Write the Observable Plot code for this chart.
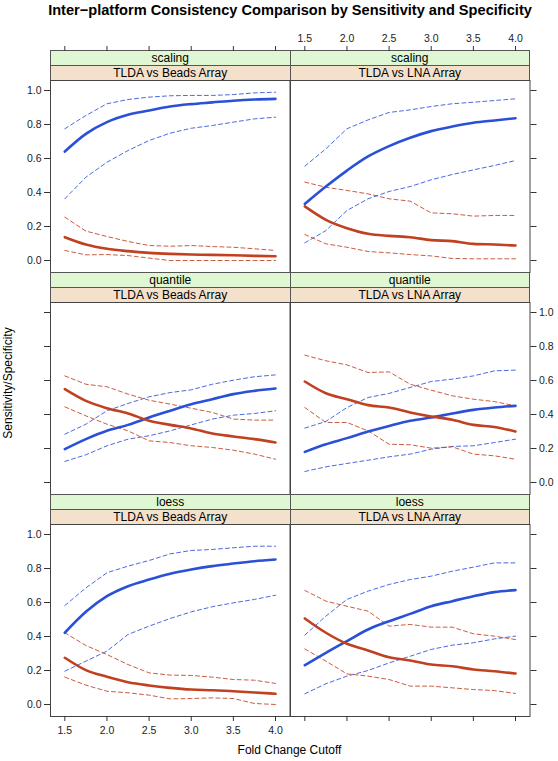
<!DOCTYPE html>
<html><head><meta charset="utf-8">
<script src="https://cdn.jsdelivr.net/npm/d3@7"></script>
<script src="https://cdn.jsdelivr.net/npm/@observablehq/plot@0.6"></script>
<style>
body{margin:0;background:#fff;font-family:"Liberation Sans",Arial,Helvetica,sans-serif;}
#root{position:relative;width:558px;height:761px;overflow:hidden;background:#fff;}
.abs{position:absolute;}
.strip{position:absolute;box-sizing:border-box;border:1px solid #555;text-align:center;font-size:12px;line-height:14px;color:#000;white-space:nowrap;}
svg{overflow:visible;}
</style></head><body><div id="root"></div>
<script>
// ---------- data ----------
const title = "Inter\u2212platform Consistency Comparison by Sensitivity and Specificity";
const xTitle = "Fold Change Cutoff";
const yTitle = "Sensitivity/Specificity";
const methods = ["scaling", "quantile", "loess"];
const platforms = ["TLDA vs Beads Array", "TLDA vs LNA Array"];
const xCutoff = [1.5, 1.75, 2.0, 2.25, 2.5, 2.75, 3.0, 3.25, 3.5, 3.75, 4.0];
const xTicks = [1.5, 2.0, 2.5, 3.0, 3.5, 4.0];
const yTicks = [0.0, 0.2, 0.4, 0.6, 0.8, 1.0];

// scaling / Beads
const scalingBeadsSens   = [0.641,0.745,0.814,0.857,0.882,0.906,0.920,0.930,0.940,0.947,0.951];
const scalingBeadsSensHi = [0.775,0.853,0.922,0.947,0.961,0.969,0.971,0.971,0.976,0.986,0.990];
const scalingBeadsSensLo = [0.363,0.490,0.578,0.647,0.706,0.749,0.778,0.794,0.814,0.833,0.843];
const scalingBeadsSpec   = [0.137,0.094,0.069,0.055,0.045,0.039,0.035,0.033,0.031,0.027,0.025];
const scalingBeadsSpecHi = [0.255,0.173,0.141,0.112,0.088,0.084,0.088,0.082,0.078,0.069,0.059];
const scalingBeadsSpecLo = [0.059,0.033,0.035,0.029,0.014,0.000,0.000,0.000,0.000,0.000,0.000];
// scaling / LNA
const scalingLnaSens   = [0.333,0.435,0.529,0.612,0.673,0.722,0.761,0.788,0.810,0.824,0.837];
const scalingLnaSensHi = [0.555,0.657,0.775,0.827,0.871,0.886,0.906,0.922,0.931,0.941,0.951];
const scalingLnaSensLo = [0.104,0.176,0.294,0.363,0.406,0.435,0.475,0.506,0.533,0.559,0.588];
const scalingLnaSpec   = [0.318,0.239,0.190,0.157,0.145,0.137,0.120,0.114,0.098,0.094,0.088];
const scalingLnaSpecHi = [0.461,0.431,0.412,0.392,0.363,0.349,0.280,0.275,0.261,0.265,0.265];
const scalingLnaSpecLo = [0.153,0.098,0.078,0.053,0.045,0.035,0.027,0.012,0.010,0.010,0.010];
// quantile / Beads
const quantileBeadsSens   = [0.196,0.255,0.304,0.339,0.382,0.422,0.461,0.490,0.520,0.539,0.553];
const quantileBeadsSensHi = [0.284,0.343,0.422,0.465,0.504,0.529,0.545,0.578,0.602,0.622,0.633];
const quantileBeadsSensLo = [0.124,0.163,0.216,0.255,0.275,0.304,0.339,0.373,0.396,0.406,0.422];
const quantileBeadsSpec   = [0.549,0.480,0.437,0.406,0.363,0.339,0.318,0.288,0.271,0.255,0.235];
const quantileBeadsSpecHi = [0.627,0.578,0.563,0.520,0.484,0.461,0.437,0.412,0.373,0.367,0.367];
const quantileBeadsSpecLo = [0.445,0.392,0.343,0.304,0.245,0.235,0.216,0.206,0.190,0.167,0.137];
// quantile / LNA
const quantileLnaSens   = [0.180,0.225,0.261,0.300,0.333,0.363,0.382,0.406,0.427,0.441,0.451];
const quantileLnaSensHi = [0.320,0.359,0.441,0.500,0.524,0.559,0.594,0.608,0.627,0.657,0.661];
const quantileLnaSensLo = [0.065,0.092,0.112,0.131,0.151,0.167,0.196,0.212,0.216,0.235,0.255];
const quantileLnaSpec   = [0.594,0.525,0.490,0.455,0.441,0.412,0.388,0.369,0.339,0.327,0.300];
const quantileLnaSpecHi = [0.749,0.716,0.692,0.647,0.651,0.578,0.543,0.510,0.490,0.476,0.451];
const quantileLnaSpecLo = [0.441,0.353,0.353,0.304,0.225,0.222,0.202,0.210,0.167,0.157,0.137];
// loess / Beads
const loessBeadsSens   = [0.422,0.545,0.637,0.696,0.735,0.769,0.794,0.814,0.829,0.843,0.853];
const loessBeadsSensHi = [0.582,0.686,0.775,0.814,0.847,0.886,0.906,0.912,0.922,0.931,0.931];
const loessBeadsSensLo = [0.196,0.255,0.314,0.412,0.461,0.506,0.545,0.575,0.598,0.618,0.643];
const loessBeadsSpec   = [0.275,0.202,0.163,0.131,0.112,0.098,0.088,0.084,0.078,0.071,0.063];
const loessBeadsSpecHi = [0.422,0.347,0.294,0.235,0.186,0.173,0.171,0.161,0.147,0.143,0.124];
const loessBeadsSpecLo = [0.161,0.114,0.078,0.069,0.055,0.033,0.035,0.039,0.035,0.006,0.000];
// loess / LNA
const loessLnaSens   = [0.231,0.304,0.373,0.441,0.490,0.533,0.578,0.608,0.637,0.661,0.673];
const loessLnaSensHi = [0.408,0.520,0.618,0.667,0.706,0.735,0.755,0.784,0.808,0.833,0.833];
const loessLnaSensLo = [0.063,0.122,0.167,0.200,0.245,0.284,0.324,0.349,0.363,0.386,0.402];
const loessLnaSpec   = [0.506,0.422,0.357,0.318,0.278,0.259,0.235,0.225,0.206,0.196,0.182];
const loessLnaSpecHi = [0.671,0.608,0.578,0.549,0.461,0.471,0.455,0.455,0.416,0.402,0.382];
const loessLnaSpecLo = [0.327,0.255,0.180,0.167,0.147,0.108,0.108,0.098,0.088,0.082,0.065];

const panelSeries = [
  [[scalingBeadsSens, scalingBeadsSensHi, scalingBeadsSensLo, scalingBeadsSpec, scalingBeadsSpecHi, scalingBeadsSpecLo],
   [scalingLnaSens, scalingLnaSensHi, scalingLnaSensLo, scalingLnaSpec, scalingLnaSpecHi, scalingLnaSpecLo]],
  [[quantileBeadsSens, quantileBeadsSensHi, quantileBeadsSensLo, quantileBeadsSpec, quantileBeadsSpecHi, quantileBeadsSpecLo],
   [quantileLnaSens, quantileLnaSensHi, quantileLnaSensLo, quantileLnaSpec, quantileLnaSpecHi, quantileLnaSpecLo]],
  [[loessBeadsSens, loessBeadsSensHi, loessBeadsSensLo, loessBeadsSpec, loessBeadsSpecHi, loessBeadsSpecLo],
   [loessLnaSens, loessLnaSensHi, loessLnaSensLo, loessLnaSpec, loessLnaSpecHi, loessLnaSpecLo]]
];

// ---------- layout & style ----------
const BLUE = "#2a50d8", RED = "#c0401f";
const FONT = "'Liberation Sans', Arial, Helvetica, sans-serif";
const colX = [50, 289.5];
const panelW = 239.5, panelH = 192, stripH = 15;
const panelTop = [80, 302, 524];
const M = 40;
const xDomain = [1.33, 4.172];
const yDomain = [-12/170, 1 + 10/170];
const fmt = d3.format(".1f");
const blank = () => "";

const root = document.getElementById("root");
function addDiv(cls, css, text) {
  const d = document.createElement("div");
  d.className = cls;
  Object.assign(d.style, css);
  if (text != null) d.textContent = text;
  root.appendChild(d);
  return d;
}

// title
addDiv("abs", {left: "0px", top: "2px", width: "580px", textAlign: "center", fontWeight: "bold", fontSize: "14.6px", whiteSpace: "nowrap"}, title);

const styles = [
  {stroke: 0, w: 2.6, dash: null},
  {stroke: 0, w: 1, dash: "4,3"},
  {stroke: 0, w: 1, dash: "4,3"},
  {stroke: 1, w: 2.6, dash: null},
  {stroke: 1, w: 1, dash: "4,3"},
  {stroke: 1, w: 1, dash: "4,3"}
];

for (let r = 0; r < 3; r++) {
  for (let c = 0; c < 2; c++) {
    const left = colX[c], top = panelTop[r];
    // strips
    addDiv("strip", {left: left + "px", top: (top - 2*stripH) + "px", width: (panelW + 1) + "px", height: (stripH + 1) + "px", background: "#dff7d3"}, methods[r]);
    addDiv("strip", {left: left + "px", top: (top - stripH) + "px", width: (panelW + 1) + "px", height: (stripH + 1) + "px", background: "#f4e1cc"}, platforms[c]);

    const series = panelSeries[r][c];
    const marks = [];
    const order = [1, 2, 4, 5, 0, 3];
    for (const k of order) {
      const st = styles[k];
      const rows = xCutoff.map((x, i) => ({x, y: series[k][i]}));
      marks.push(Plot.line(rows, {x: "x", y: "y", stroke: st.stroke ? RED : BLUE, strokeWidth: st.w,
        curve: st.dash ? "linear" : "monotone-x",
        strokeDasharray: st.dash, strokeOpacity: st.dash ? 0.85 : 1}));
    }
    marks.push(Plot.frame({stroke: "#444"}));
    if (c === 0) marks.push(Plot.axisY(yTicks, {anchor: "left", label: null, tickSize: 6, tickPadding: 3, stroke: "#333", tickFormat: r !== 1 ? fmt : blank}));
    else marks.push(Plot.axisY(yTicks, {anchor: "right", label: null, tickSize: 6, tickPadding: 3, stroke: "#333", tickFormat: r === 1 ? fmt : blank}));
    if (r === 2) marks.push(Plot.axisX(xTicks, {anchor: "bottom", label: null, tickSize: 5, tickPadding: 5, stroke: "#333", tickFormat: c === 0 ? fmt : blank}));

    const svg = Plot.plot({
      width: panelW + 2*M, height: panelH + 2*M, margin: M,
      x: {domain: xDomain, axis: null},
      y: {domain: yDomain, axis: null},
      style: {background: "transparent", overflow: "visible", fontFamily: FONT, fontSize: "10.5px", color: "#222"},
      marks
    });
    svg.style.position = "absolute";
    svg.style.left = (left - M) + "px";
    svg.style.top = (top - M) + "px";
    root.appendChild(svg);

    if (r === 0) {
      const ax = Plot.plot({
        width: panelW + 2*M, height: 40, marginLeft: M, marginRight: M, marginTop: 39, marginBottom: 0,
        x: {domain: xDomain, axis: null},
        style: {background: "transparent", overflow: "visible", fontFamily: FONT, fontSize: "10.5px", color: "#222"},
        marks: [Plot.axisX(xTicks, {anchor: "top", label: null, tickSize: 5, tickPadding: 4, stroke: "#333", tickFormat: c === 1 ? fmt : blank})]
      });
      ax.style.position = "absolute";
      ax.style.left = (left - M) + "px";
      ax.style.top = (top - 2*stripH - 39) + "px";
      root.appendChild(ax);
    }
  }
}

// axis titles
addDiv("abs", {left: "0px", top: "743px", width: "579px", textAlign: "center", fontSize: "12px"}, xTitle);
addDiv("abs", {left: "8px", top: "383px", width: "200px", textAlign: "center", fontSize: "12px",
  transform: "translate(-100px, -7px) rotate(-90deg)", transformOrigin: "100px 7px", whiteSpace: "nowrap"}, yTitle);
</script></body></html>
